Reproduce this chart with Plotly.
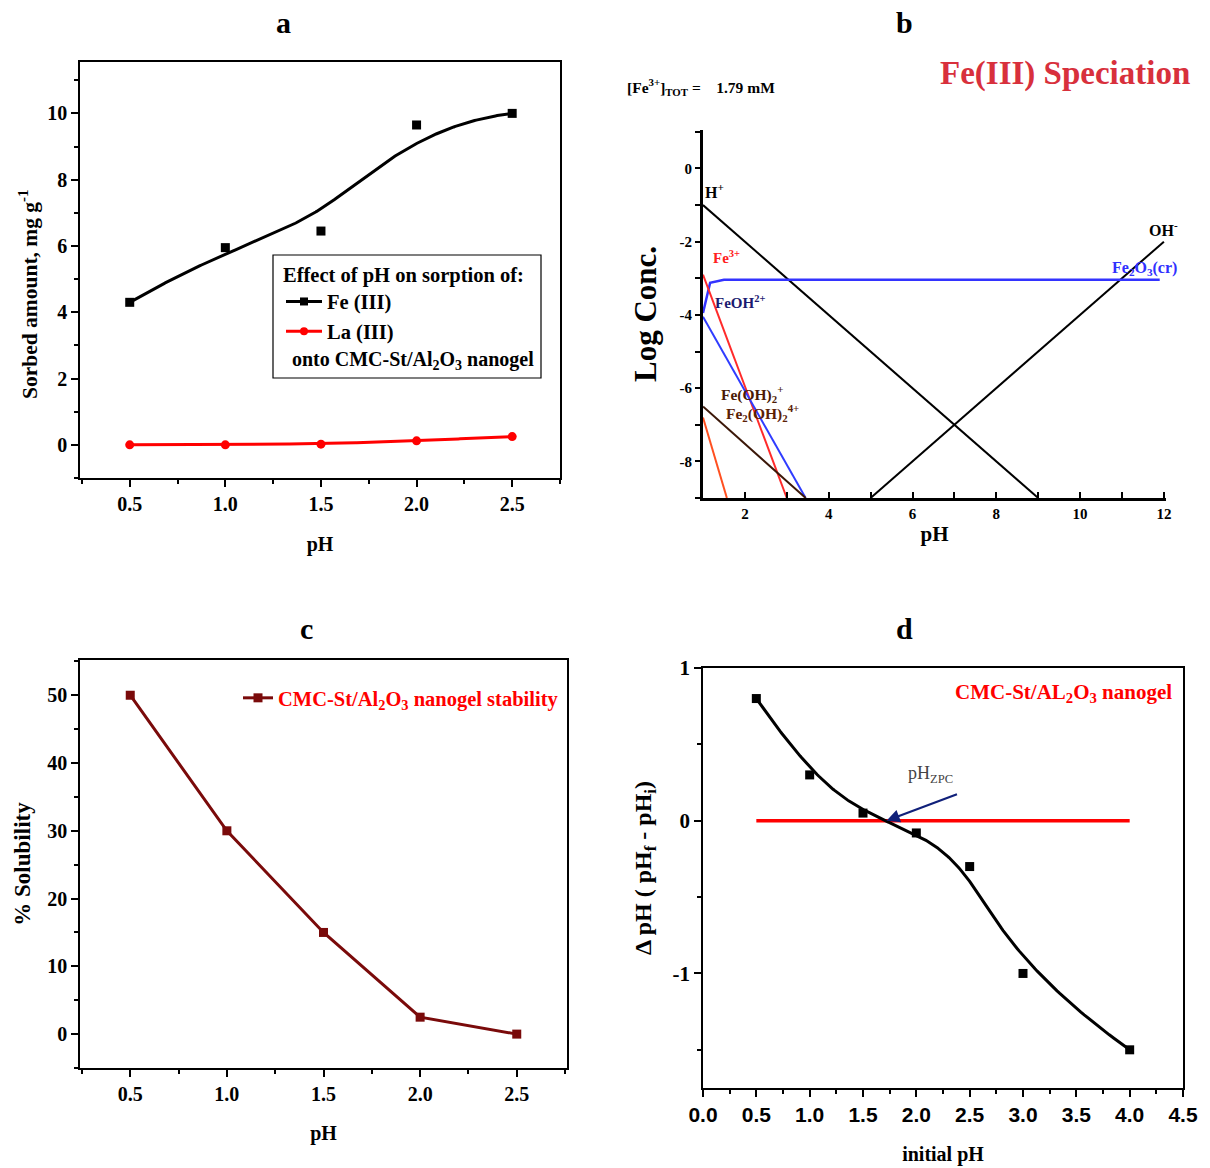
import numpy as np
import plotly.graph_objects as go

# ---------------- data ----------------
# panel a : sorption vs pH
ph_a = [0.5, 1.0, 1.5, 2.0, 2.5]
fe_a = [4.3, 5.95, 6.45, 9.65, 10.0]
la_a = [0.0, 0.0, 0.02, 0.12, 0.25]
a_xticks = ["0.5", "1.0", "1.5", "2.0", "2.5"]
a_yticks = [0, 2, 4, 6, 8, 10]

# panel b : Fe(III) speciation (log conc vs pH)
b_ph_H = [1.0, 9.0];            b_H = [-1.0, -9.0]
b_ph_OH = [5.0, 12.0];          b_OH = [-9.0, -2.0]
b_ph_tot = [1.0, 1.17, 1.5, 11.9]; b_tot = [-3.95, -3.12, -3.04, -3.04]
b_ph_fe3 = [1.0, 3.0];          b_fe3 = [-2.9, -9.0]
b_ph_feoh = [1.0, 3.45];        b_feoh = [-4.05, -9.0]
b_ph_feoh2 = [1.0, 3.45];       b_feoh2 = [-6.5, -9.0]
b_ph_fe2oh2 = [1.0, 1.57];      b_fe2oh2 = [-6.8, -9.0]
b_xticks = [2, 4, 6, 8, 10, 12]
b_yticks = [0, -2, -4, -6, -8]

# panel c : solubility
ph_c = [0.5, 1.0, 1.5, 2.0, 2.5]
sol_c = [50, 30, 15, 2.5, 0]
c_xticks = ["0.5", "1.0", "1.5", "2.0", "2.5"]
c_yticks = [0, 10, 20, 30, 40, 50]

# panel d : point of zero charge
ph_d = [0.5, 1.0, 1.5, 2.0, 2.5, 3.0, 4.0]
dph_d = [0.8, 0.3, 0.05, -0.08, -0.3, -1.0, -1.5]
zero_x = [0.5, 4.0]
zero_y = [0.0, 0.0]
zpc_x = 1.72
d_xtickvals = [0, 0.5, 1, 1.5, 2, 2.5, 3, 3.5, 4, 4.5]
d_xticks = ["0.0", "0.5", "1.0", "1.5", "2.0", "2.5", "3.0", "3.5", "4.0", "4.5"]
d_yticks = [-1, 0, 1]


def bspline(xs, ys, n=300, k=3):
    """Clamped B-spline using the data points as control points (Origin 'B-Spline' connect)."""
    P = np.column_stack([xs, ys]).astype(float)
    m = len(P)
    k = min(k, m - 1)
    knots = np.concatenate([np.zeros(k), np.linspace(0, 1, m - k + 1), np.ones(k)])
    t = np.linspace(0, 1, n)
    t[-1] -= 1e-10
    N = np.zeros((n, len(knots) - 1))
    for i in range(len(knots) - 1):
        N[:, i] = ((t >= knots[i]) & (t < knots[i + 1])).astype(float)
    for p in range(1, k + 1):
        Nn = np.zeros((n, len(knots) - 1 - p))
        for i in range(len(knots) - 1 - p):
            d1 = knots[i + p] - knots[i]
            d2 = knots[i + p + 1] - knots[i + 1]
            a = (t - knots[i]) / d1 * N[:, i] if d1 > 0 else 0
            b = (knots[i + p + 1] - t) / d2 * N[:, i + 1] if d2 > 0 else 0
            Nn[:, i] = a + b
        N = Nn
    C = N @ P
    return C[:, 0], C[:, 1]


def bold(vals):
    return ["<b>%s</b>" % v for v in vals]


W, H = 1210, 1168
SERIF = "Liberation Serif, Times New Roman, serif"
SANS = "Liberation Sans, Arial, sans-serif"


def px(x):
    return x / W


def py(y):
    return 1 - y / H


fig = go.Figure()

# ---- panel a ----
fx, fy = bspline(ph_a, fe_a)
lx, ly = bspline(ph_a, la_a)
fig.add_trace(go.Scatter(x=fx, y=fy, mode="lines", line=dict(color="black", width=3),
                         showlegend=False, hoverinfo="skip", xaxis="x", yaxis="y"))
fig.add_trace(go.Scatter(x=ph_a, y=fe_a, mode="markers", name="Fe (III)",
                         marker=dict(symbol="square", size=9, color="black"),
                         showlegend=False, xaxis="x", yaxis="y"))
fig.add_trace(go.Scatter(x=lx, y=ly, mode="lines", line=dict(color="#ff0000", width=3),
                         showlegend=False, hoverinfo="skip", xaxis="x", yaxis="y"))
fig.add_trace(go.Scatter(x=ph_a, y=la_a, mode="markers", name="La (III)",
                         marker=dict(symbol="circle", size=9, color="#ff0000"),
                         showlegend=False, xaxis="x", yaxis="y"))
fig.add_trace(go.Scatter(x=[None], y=[None], mode="lines+markers", name="<b>Fe (III)</b>",
                         line=dict(color="black", width=3),
                         marker=dict(symbol="square", size=8, color="black"),
                         legend="legend", xaxis="x", yaxis="y"))
fig.add_trace(go.Scatter(x=[None], y=[None], mode="lines+markers", name="<b>La (III)</b>",
                         line=dict(color="#ff0000", width=3),
                         marker=dict(symbol="circle", size=8, color="#ff0000"),
                         legend="legend", xaxis="x", yaxis="y"))

# ---- panel b ----
b_lines = [
    (b_ph_H, b_H, "black", 2),
    (b_ph_OH, b_OH, "black", 2),
    (b_ph_tot, b_tot, "#3333ff", 2.5),
    (b_ph_fe3, b_fe3, "#ff2a2a", 2),
    (b_ph_feoh, b_feoh, "#2f3cff", 2),
    (b_ph_feoh2, b_feoh2, "#3b1708", 2),
    (b_ph_fe2oh2, b_fe2oh2, "#ff5020", 2),
]
for xs, ys, c, w in b_lines:
    fig.add_trace(go.Scatter(x=xs, y=ys, mode="lines", line=dict(color=c, width=w),
                             showlegend=False, hoverinfo="skip", xaxis="x2", yaxis="y2"))

# ---- panel c ----
fig.add_trace(go.Scatter(x=ph_c, y=sol_c, mode="lines+markers",
                         name="<b>CMC-St/Al<sub>2</sub>O<sub>3</sub> nanogel stability</b>",
                         line=dict(color="#7a0a0a", width=3),
                         marker=dict(symbol="square", size=9, color="#7a0a0a"),
                         legend="legend2", xaxis="x3", yaxis="y3"))

# ---- panel d ----
dx, dy = bspline(ph_d, dph_d)
fig.add_trace(go.Scatter(x=zero_x, y=zero_y, mode="lines", line=dict(color="#ff0000", width=3.5),
                         showlegend=False, hoverinfo="skip", xaxis="x4", yaxis="y4"))
fig.add_trace(go.Scatter(x=dx, y=dy, mode="lines", line=dict(color="black", width=3),
                         showlegend=False, hoverinfo="skip", xaxis="x4", yaxis="y4"))
fig.add_trace(go.Scatter(x=ph_d, y=dph_d, mode="markers",
                         marker=dict(symbol="square", size=9, color="black"),
                         showlegend=False, xaxis="x4", yaxis="y4"))

axis_common = dict(showline=True, linecolor="black", linewidth=1.5, mirror=True,
                   ticks="outside", ticklen=7, tickwidth=1.5, tickcolor="black",
                   showgrid=False, zeroline=False, automargin=False)

layout = dict(
    width=W, height=H,
    margin=dict(l=0, r=0, t=0, b=0, pad=0, autoexpand=False),
    paper_bgcolor="white", plot_bgcolor="white",
    font=dict(family=SERIF, color="black"),
    # a
    xaxis=dict(domain=[px(80), px(560)], range=[0.24, 2.75], anchor="y",
               tickvals=ph_a, ticktext=bold(a_xticks),
               tickfont=dict(family=SERIF, size=20, color="black"),
               minor=dict(dtick=0.25, ticklen=4, tickcolor="black", ticks="outside"),
               title=dict(text="<b>pH</b>", font=dict(family=SERIF, size=20), standoff=23),
               **axis_common),
    yaxis=dict(domain=[py(478), py(62)], range=[-1.0, 11.55], anchor="x",
               tickvals=a_yticks, ticktext=bold(a_yticks),
               tickfont=dict(family=SERIF, size=20, color="black"),
               minor=dict(dtick=1, ticklen=4, tickcolor="black", ticks="outside"),
               **axis_common),
    # b
    xaxis2=dict(domain=[px(703), px(1166)], range=[1.0, 12.05], anchor="y2",
                tickvals=b_xticks, ticktext=bold(b_xticks),
                tickfont=dict(family=SERIF, size=15, color="black"),
                showline=True, linecolor="black", linewidth=3, ticks="inside",
                ticklen=6, tickwidth=2, tickcolor="black",
                minor=dict(dtick=1, ticklen=6, tickcolor="black", ticks="inside"),
                showgrid=False, zeroline=False, automargin=False,
                title=dict(text="<b>pH</b>", font=dict(family=SERIF, size=21), standoff=6)),
    yaxis2=dict(domain=[py(498), py(130)], range=[-9.0, 1.05], anchor="x2",
                tickvals=b_yticks, ticktext=bold(b_yticks),
                tickfont=dict(family=SERIF, size=15, color="black"),
                showline=True, linecolor="black", linewidth=3, ticks="outside",
                ticklen=5, tickwidth=2, tickcolor="black",
                minor=dict(dtick=1, ticklen=5, tickcolor="black", ticks="outside"),
                showgrid=False, zeroline=False, automargin=False,
                title=dict(text="<b>Log Conc.</b>", font=dict(family=SERIF, size=31), standoff=14)),
    # c
    xaxis3=dict(domain=[px(80), px(567)], range=[0.24, 2.76], anchor="y3",
                tickvals=ph_c, ticktext=bold(c_xticks),
                tickfont=dict(family=SERIF, size=20, color="black"),
                minor=dict(dtick=0.25, ticklen=4, tickcolor="black", ticks="outside"),
                title=dict(text="<b>pH</b>", font=dict(family=SERIF, size=20), standoff=22),
                **axis_common),
    yaxis3=dict(domain=[py(1068), py(660)], range=[-5.0, 55.2], anchor="x3",
                tickvals=c_yticks, ticktext=bold(c_yticks),
                tickfont=dict(family=SERIF, size=20, color="black"),
                minor=dict(dtick=5, ticklen=4, tickcolor="black", ticks="outside"),
                title=dict(text="<b>% Solubility</b>", font=dict(family=SERIF, size=23), standoff=10),
                **axis_common),
    # d
    xaxis4=dict(domain=[px(703), px(1183)], range=[0.0, 4.5], anchor="y4",
                tickvals=d_xtickvals, ticktext=bold(d_xticks),
                tickfont=dict(family=SANS, size=21, color="black"),
                minor=dict(dtick=0.25, ticklen=4, tickcolor="black", ticks="outside"),
                title=dict(text="<b>initial pH</b>", font=dict(family=SERIF, size=20), standoff=22),
                **axis_common),
    yaxis4=dict(domain=[py(1088), py(668)], range=[-1.75, 1.0], anchor="x4",
                tickvals=d_yticks, ticktext=bold(d_yticks),
                tickfont=dict(family=SERIF, size=21, color="black"),
                minor=dict(dtick=0.5, ticklen=4, tickcolor="black", ticks="outside"),
                **axis_common),
    legend=dict(x=px(281), y=py(255), xanchor="left", yanchor="top",
                bgcolor="rgba(0,0,0,0)", borderwidth=0,
                title=dict(text="<b>Effect of pH on sorption of:</b>",
                           font=dict(family=SERIF, size=20.5, color="black")),
                font=dict(family=SERIF, size=20.5, color="black"),
                itemwidth=36, tracegroupgap=0),
    legend2=dict(x=px(238), y=py(678), xanchor="left", yanchor="top",
                 bgcolor="rgba(0,0,0,0)", borderwidth=0,
                 font=dict(family=SERIF, size=20.5, color="#ff0000"),
                 itemwidth=30),
)
fig.update_layout(**layout)

# legend box for panel a
fig.add_shape(type="rect", xref="paper", yref="paper",
              x0=px(273), x1=px(541), y0=py(378), y1=py(255),
              line=dict(color="black", width=1.2), fillcolor="rgba(0,0,0,0)")

ann = []


def A(text, x, y, size, color="black", family=SERIF, bold=True, xanchor="center", **kw):
    ann.append(dict(text=("<b>%s</b>" % text) if bold else text, x=px(x), y=py(y),
                    xref="paper", yref="paper", showarrow=False, xanchor=xanchor,
                    yanchor="middle", font=dict(family=family, size=size, color=color), **kw))


# panel letters
A("a", 283, 22, 30)
A("b", 904, 22, 30)
A("c", 306, 628, 30)
A("d", 904, 628, 30)

# y titles placed precisely
A("Sorbed amount, mg g<sup>-1</sup>", 29, 294, 21.5, textangle=-90)
A("\u0394 pH ( pH<sub>f</sub> - pH<sub>i</sub>)", 645, 868, 24, textangle=-90)

# panel a legend last line
A("onto CMC-St/Al<sub>2</sub>O<sub>3</sub> nanogel", 290, 360, 20, xanchor="left")

# panel b
A("Fe(III) Speciation", 1065, 73, 33, color="#d8303c")
A("[Fe<sup>3+</sup>]<sub>TOT</sub> =    1.79 mM", 625, 87, 15.5, xanchor="left")
A("H<sup>+</sup>", 703, 191, 16, xanchor="left")
A("Fe<sup>3+</sup>", 711, 257, 15, color="#ff2020", xanchor="left")
A("FeOH<sup>2+</sup>", 713, 302, 15, color="#1a1a70", xanchor="left")
A("Fe(OH)<sub>2</sub><sup>+</sup>", 719, 394, 15.5, color="#4a1a05", xanchor="left")
A("Fe<sub>2</sub>(OH)<sub>2</sub><sup>4+</sup>", 724, 413, 15.5, color="#5a2005", xanchor="left")
A("OH<sup>-</sup>", 1147, 229, 16, xanchor="left")
A("Fe<sub>2</sub>O<sub>3</sub>(cr)", 1110, 268, 16, color="#3030ff", xanchor="left")

# panel d
A("CMC-St/AL<sub>2</sub>O<sub>3</sub> nanogel", 1063, 693, 21, color="#ff0000")
A("pH<sub>ZPC</sub>", 930, 774, 18, color="#444444", bold=False)
ann.append(dict(x=zpc_x, y=0, xref="x4", yref="y4", text="", showarrow=True,
                ax=72, ay=-27, arrowhead=2, arrowsize=1.2, arrowwidth=2.2,
                arrowcolor="#10207a"))

fig.update_layout(annotations=ann)
fig.write_html("out.html")
